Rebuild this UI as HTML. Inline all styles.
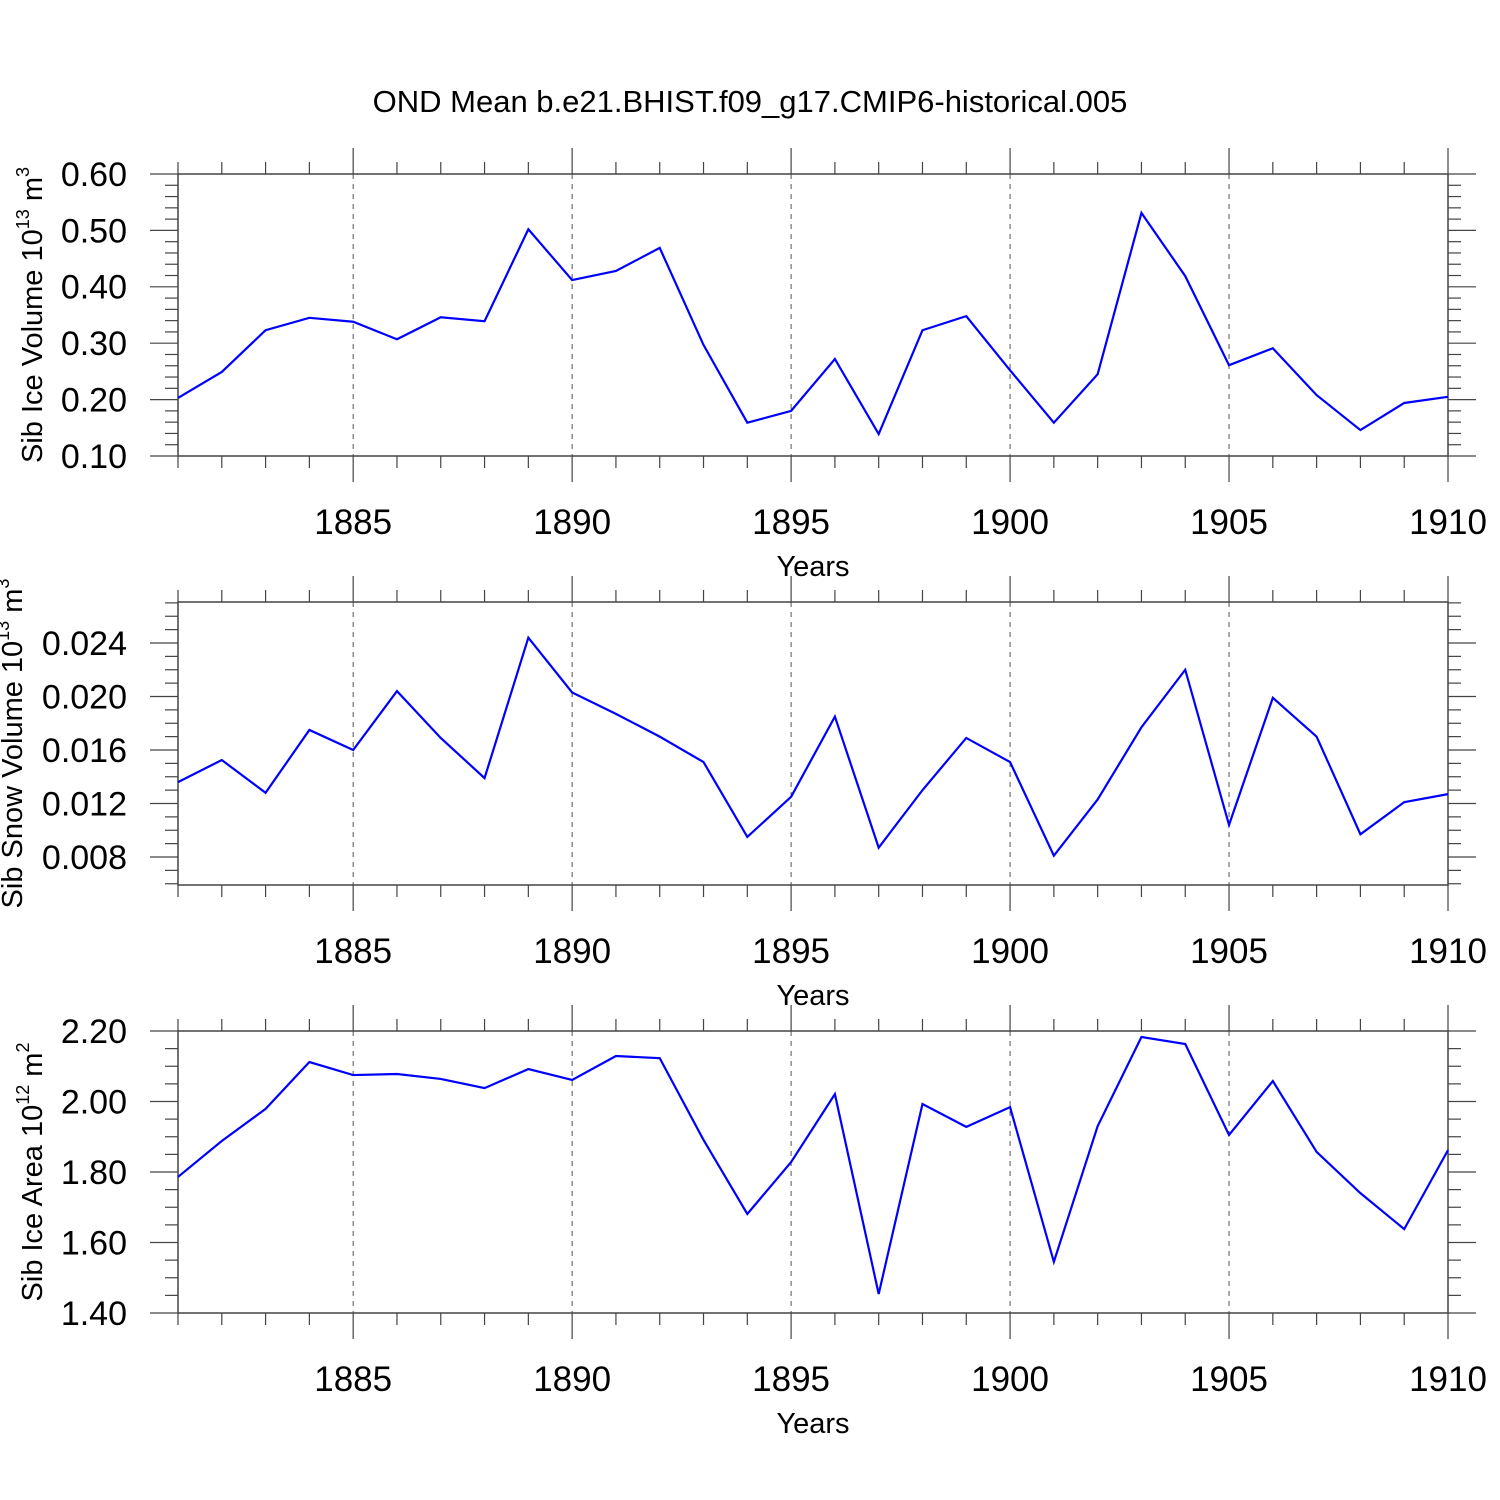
<!DOCTYPE html>
<html><head><meta charset="utf-8"><style>
body{margin:0;background:#fff}
svg{display:block;font-family:"Liberation Sans",sans-serif}
</style></head><body>
<svg id="c" width="1500" height="1500" xmlns="http://www.w3.org/2000/svg">
<text x="750" y="112" font-size="31" text-anchor="middle">OND Mean b.e21.BHIST.f09_g17.CMIP6-historical.005</text>
</svg>
<script>
const years=[1881,1882,1883,1884,1885,1886,1887,1888,1889,1890,1891,1892,1893,1894,1895,1896,1897,1898,1899,1900,1901,1902,1903,1904,1905,1906,1907,1908,1909,1910];
const iceVolume=[0.203,0.249,0.323,0.345,0.338,0.307,0.346,0.339,0.502,0.412,0.428,0.469,0.297,0.159,0.180,0.272,0.139,0.323,0.348,0.252,0.159,0.245,0.531,0.419,0.261,0.291,0.208,0.146,0.194,0.205];
const snowVolume=[0.0136,0.01525,0.0128,0.0175,0.0160,0.0204,0.0169,0.0139,0.0244,0.0203,0.0187,0.0170,0.0151,0.0095,0.0125,0.0185,0.0087,0.0130,0.0169,0.0151,0.0081,0.0123,0.0177,0.0220,0.0104,0.0199,0.0170,0.0097,0.0121,0.0127];
const iceArea=[1.786,1.888,1.979,2.112,2.075,2.078,2.064,2.038,2.092,2.061,2.129,2.123,1.891,1.681,1.828,2.021,1.454,1.993,1.928,1.984,1.545,1.930,2.183,2.163,1.905,2.058,1.857,1.740,1.638,1.862];
const xTicks=[1885,1890,1895,1900,1905,1910];
const ticks1=["0.10","0.20","0.30","0.40","0.50","0.60"];
const ticks2=["0.008","0.012","0.016","0.020","0.024"];
const ticks3=["1.40","1.60","1.80","2.00","2.20"];
const NS="http://www.w3.org/2000/svg";
const svg=document.getElementById('c');
function mk(t,a){const e=document.createElementNS(NS,t);for(const k in a)e.setAttribute(k,a[k]);svg.appendChild(e);return e;}
const X0=178,X1=1448,XMIN=1881,XMAX=1910;
const xs=v=>X0+(v-XMIN)/(XMAX-XMIN)*(X1-X0);
function panel(id,top,bot,ymin,ymax,minorStep,ticks,data,title,sup,unitSup,titleX,tickFont){
  const ys=v=>bot-(v-ymin)/(ymax-ymin)*(bot-top);
  xTicks.forEach(t=>{if(t<XMAX){const l=mk('line',{x1:xs(t),x2:xs(t),y1:top,y2:bot,stroke:'#555','stroke-width':1,'stroke-dasharray':'5,5'});
  
  }});
  for(let y=XMIN;y<=XMAX;y++){const maj=xTicks.includes(y);const len=maj?26:12;
    mk('line',{x1:xs(y),x2:xs(y),y1:top-len,y2:top,stroke:'#444','stroke-width':1.2});
    mk('line',{x1:xs(y),x2:xs(y),y1:bot,y2:bot+len,stroke:'#444','stroke-width':1.2});}
  xTicks.forEach(t=>{const tx=mk('text',{x:xs(t),y:bot+78,'font-size':35,'text-anchor':'middle'});tx.textContent=t;
  
  });
  const xt=mk('text',{x:813,y:bot+120,'font-size':29,'text-anchor':'middle'});xt.textContent='Years';
  
  
  const start=Math.ceil(ymin/minorStep-1e-6);
  for(let k=start;k*minorStep<=ymax+1e-9;k++){const v=k*minorStep;const y=ys(v);
    const isMaj=ticks.some(t=>Math.abs(parseFloat(t)-v)<minorStep/10);const len=isMaj?28:13;
    mk('line',{x1:X0-len,x2:X0,y1:y,y2:y,stroke:'#444','stroke-width':1.2});
    mk('line',{x1:X1,x2:X1+len,y1:y,y2:y,stroke:'#444','stroke-width':1.2});}
  ticks.forEach(t=>{const tx=mk('text',{x:127,y:ys(parseFloat(t))+tickFont*0.35,'font-size':tickFont,'text-anchor':'end'});tx.textContent=t;
  
  });
  const r=mk('rect',{x:X0,y:top,width:X1-X0,height:bot-top,fill:'none',stroke:'#444','stroke-width':1.5});
  
  
  const cy=(top+bot)/2;
  const yt=mk('text',{x:0,y:0,'font-size':29,'text-anchor':'middle',transform:`translate(${titleX},${cy}) rotate(-90)`});
  yt.innerHTML=title+' 10<tspan font-size="18" dy="-13">'+sup+'</tspan><tspan dy="13"> m</tspan><tspan font-size="18" dy="-13">'+unitSup+'</tspan>';
  
  
  const p=mk('polyline',{points:data.map((v,i)=>xs(years[i])+','+ys(v)).join(' '),fill:'none',stroke:'#0000ff','stroke-width':2.2});
  
  
}
panel('ice-volume',174,456,0.10,0.60,0.02,ticks1,iceVolume,'Sib Ice Volume','13','3',42,34);
panel('snow-volume',602,885,0.008-28/53.5*0.004,0.024+41/53.5*0.004,0.001,ticks2,snowVolume,'Sib Snow Volume','13','3',22,34);
panel('ice-area',1031,1313,1.40,2.20,0.05,ticks3,iceArea,'Sib Ice Area','12','2',42,34);
</script>
</body></html>
